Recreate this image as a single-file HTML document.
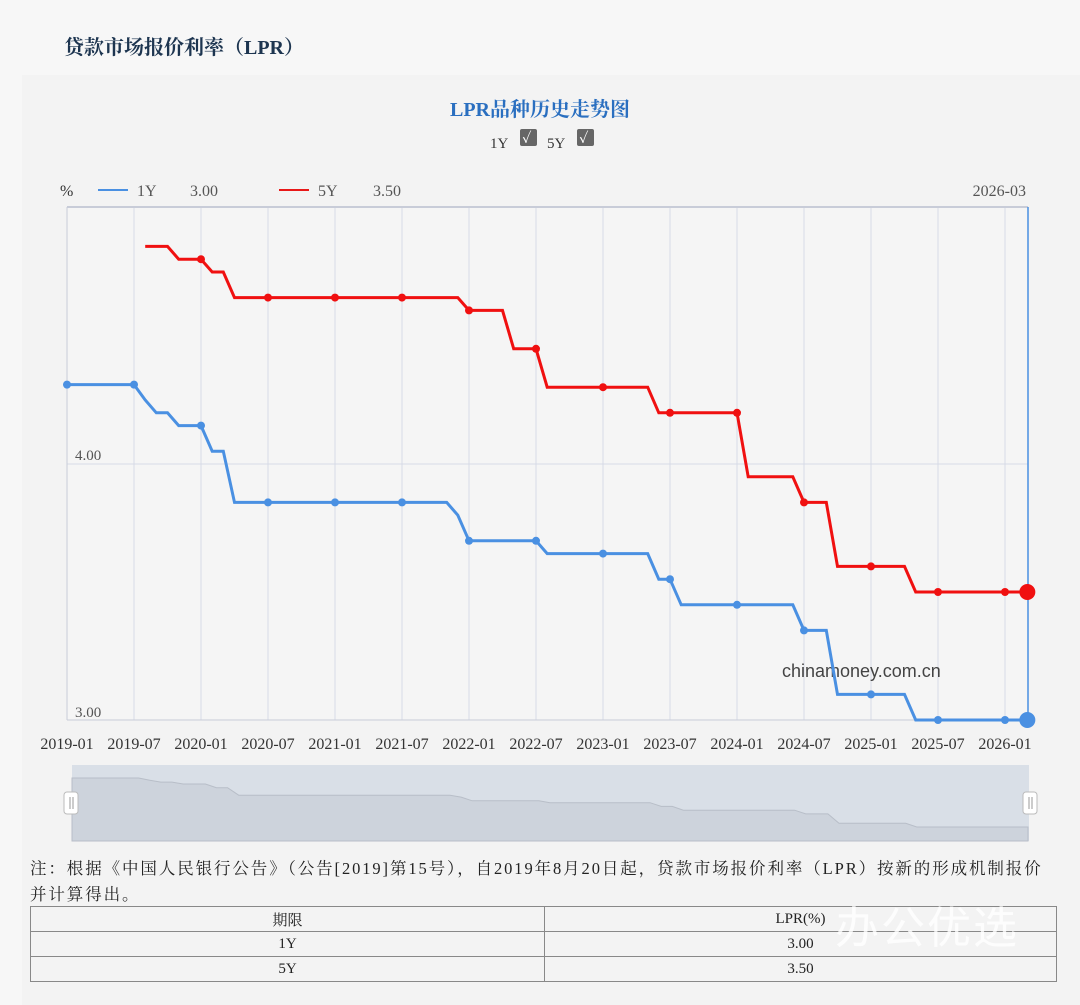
<!DOCTYPE html>
<html><head><meta charset="utf-8">
<style>
body{margin:0;width:1080px;height:1005px;background:#f7f7f7;font-family:"Liberation Serif","Noto Serif CJK SC",serif;overflow:hidden;position:relative}
#title{position:absolute;left:64px;top:31px;font-size:20px;font-weight:bold;color:#1d3550;font-family:"Liberation Serif","Noto Serif CJK SC",serif}
#panel{position:absolute;left:22px;top:75px;width:1058px;height:930px;background:#f3f3f3}
svg{position:absolute;left:0;top:0}
.note{position:absolute;left:30px;top:856px;width:1030px;font-size:16.5px;line-height:26px;color:#222;white-space:nowrap}
.note span{letter-spacing:1.9px}
table{position:absolute;left:30px;top:906px;width:1027px;border-collapse:collapse;font-size:15px;color:#222}
td{border:1px solid #888;height:24px;text-align:center;padding:0}
.wm{position:absolute;left:835px;top:892px;font-size:44px;color:rgba(255,255,255,0.8);font-family:"Noto Sans CJK SC",sans-serif;letter-spacing:2px}
</style></head><body>
<div id="title">贷款市场报价利率（LPR）</div>
<div id="panel"></div>
<svg id="s" width="1080" height="1005" xmlns="http://www.w3.org/2000/svg"></svg>
<div class="note"><span>注：根据《中国人民银行公告》（公告[2019]第15号），自2019年8月20日起，贷款市场报价利率（LPR）按新的形成机制报价</span><br><span>并计算得出。</span></div>
<table>
<tr><td style="width:513px">期限</td><td>LPR(%)</td></tr>
<tr><td>1Y</td><td>3.00</td></tr>
<tr><td>5Y</td><td>3.50</td></tr>
</table>
<div class="wm">办公优选</div>
<script>
function seg(list){var a=[];list.forEach(function(s){for(var i=s[0];i<=s[1];i++)a[i]=s[2];});return a;}
var y1=seg([[0,6,4.31],[7,7,4.25],[8,9,4.20],[10,12,4.15],[13,14,4.05],[15,34,3.85],[35,35,3.80],[36,42,3.70],[43,52,3.65],[53,54,3.55],[55,65,3.45],[66,68,3.35],[69,75,3.10],[76,86,3.00]]);
var y5=seg([[7,9,4.85],[10,12,4.80],[13,14,4.75],[15,35,4.65],[36,39,4.60],[40,42,4.45],[43,52,4.30],[53,60,4.20],[61,65,3.95],[66,68,3.85],[69,75,3.60],[76,86,3.50]]);
function X(i){return 67+i*938/84;}
function Y(v){return 720-(v-3)*256;}
var h='';
h+='<text x="450" y="116" font-size="20" fill="#2a6fc0" font-family="Liberation Serif,Noto Serif CJK SC,serif" font-weight="bold">LPR品种历史走势图</text>';
h+='<text x="490" y="148" font-size="15" fill="#333">1Y</text><rect x="520" y="129" width="17" height="17" rx="2" fill="#666"/><text x="522" y="143" font-size="14" fill="#fff" font-weight="bold">✓</text>';
h+='<text x="547" y="148" font-size="15" fill="#333">5Y</text><rect x="577" y="129" width="17" height="17" rx="2" fill="#666"/><text x="579" y="143" font-size="14" fill="#fff" font-weight="bold">✓</text>';
h+='<text x="60" y="196" font-size="16" fill="#333">%</text>';
h+='<line x1="98" y1="190" x2="128" y2="190" stroke="#4a90e2" stroke-width="2"/><text x="137" y="196" font-size="16" fill="#555">1Y</text><text x="190" y="196" font-size="16" fill="#555">3.00</text>';
h+='<line x1="279" y1="190" x2="309" y2="190" stroke="#e81818" stroke-width="2"/><text x="318" y="196" font-size="16" fill="#555">5Y</text><text x="373" y="196" font-size="16" fill="#555">3.50</text>';
h+='<text x="1026" y="196" font-size="16" fill="#555" text-anchor="end">2026-03</text>';
h+='<rect x="67" y="207" width="961" height="513" fill="#f5f5f5"/>';
var labs=['2019-01','2019-07','2020-01','2020-07','2021-01','2021-07','2022-01','2022-07','2023-01','2023-07','2024-01','2024-07','2025-01','2025-07','2026-01'];
for(var k=0;k<15;k++){var x=X(k*6);h+='<line x1="'+x+'" y1="207" x2="'+x+'" y2="720" stroke="#d6dae6" stroke-width="1"/>';
h+='<text x="'+x+'" y="749" font-size="16" fill="#333" text-anchor="middle">'+labs[k]+'</text>';}
h+='<line x1="67" y1="207" x2="1028" y2="207" stroke="#c8ccd8" stroke-width="2"/>';
h+='<line x1="67" y1="464" x2="1028" y2="464" stroke="#d6dae6"/>';
h+='<line x1="67" y1="720" x2="1028" y2="720" stroke="#c8ccd8"/>';
h+='<line x1="67" y1="207" x2="67" y2="720" stroke="#c8ccd8"/>';
h+='<line x1="1028" y1="207" x2="1028" y2="720" stroke="#4a90e2" stroke-width="1.5"/>';
h+='<text x="75" y="460" font-size="15" fill="#555">4.00</text><text x="75" y="717" font-size="15" fill="#555">3.00</text>';
h+='<text x="782" y="677" font-size="18" fill="#444" font-family="Liberation Sans,sans-serif">chinamoney.com.cn</text>';
function line(d,c,start){var p=[];for(var i=start;i<=86;i++)p.push(X(i).toFixed(1)+','+Y(d[i]).toFixed(1));
var s='<polyline points="'+p.join(' ')+'" fill="none" stroke="'+c+'" stroke-width="3"/>';
for(var i=0;i<=84;i+=6){if(d[i]!==undefined)s+='<circle cx="'+X(i)+'" cy="'+Y(d[i])+'" r="4" fill="'+c+'"/>';}
s+='<circle cx="'+X(86)+'" cy="'+Y(d[86])+'" r="8" fill="'+c+'"/>';return s;}
h+=line(y1,'#4a90e2',0);h+=line(y5,'#f01010',7);
h+='<rect x="72" y="765" width="957" height="76" fill="#d9dfe7"/>';
var p=['72,841'];for(var i=0;i<=86;i++){p.push((72+i*956/86).toFixed(1)+','+(778+(4.31-y1[i])*37.4).toFixed(1));}p.push('1028,841');
h+='<polygon points="'+p.join(' ')+'" fill="#cdd3dc" stroke="#b8bec8" stroke-width="1"/>';
h+='<rect x="64" y="792" width="14" height="22" rx="3" fill="#fff" stroke="#bbb"/><line x1="70" y1="797" x2="70" y2="809" stroke="#999"/><line x1="73" y1="797" x2="73" y2="809" stroke="#999"/>';
h+='<rect x="1023" y="792" width="14" height="22" rx="3" fill="#fff" stroke="#bbb"/><line x1="1029" y1="797" x2="1029" y2="809" stroke="#999"/><line x1="1032" y1="797" x2="1032" y2="809" stroke="#999"/>';
document.getElementById('s').innerHTML=h;
</script>
</body></html>
